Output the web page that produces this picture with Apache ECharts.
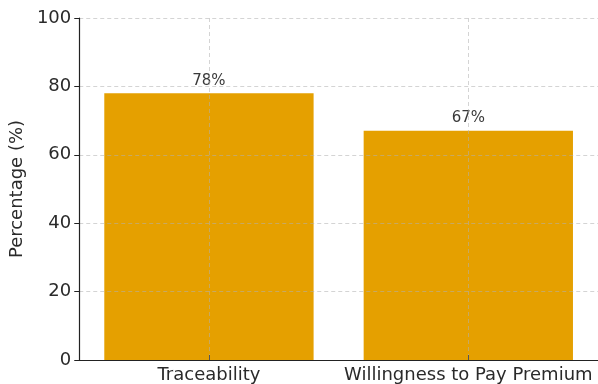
<!DOCTYPE html>
<html>
<head>
<meta charset="utf-8">
<script src="https://cdn.jsdelivr.net/npm/echarts@6/dist/echarts.min.js"></script>
<style>
  html, body { margin: 0; padding: 0; background: #fff; }
  #chart { width: 598px; height: 384px; }
</style>
</head>
<body>
<div id="chart"></div>
<script>
// values
const categories = ["Traceability", "Willingness to Pay Premium"];
const percentages = [78, 67];
const yTicks = [0, 20, 40, 60, 80, 100];

const font = "DejaVu Sans";
const gridColor = "rgba(176,176,176,0.55)";

let myChart = echarts.init(document.getElementById("chart"));

myChart.setOption({
  animation: false,
  color: ["#E5A000"],
  grid: { left: 77, right: 0, top: 18, bottom: 23 },
  xAxis: {
    type: "category",
    data: categories,
    z: 5,
    axisLine: { lineStyle: { color: "#222", width: 1.2 } },
    axisTick: { show: true, inside: true, length: 5, interval: 0, alignWithLabel: true, lineStyle: { color: "#555" } },
    axisLabel: { interval: 0, hideOverlap: false, fontFamily: font, fontSize: 18, color: "#2a2a2a", margin: 6 },
    splitLine: { show: true, interval: 0, alignWithLabel: true, lineStyle: { color: gridColor, type: [4, 3], width: 1 } },
  },
  yAxis: {
    type: "value",
    min: yTicks[0],
    max: yTicks[yTicks.length - 1],
    interval: 20,
    z: 5,
    name: "Percentage (%)",
    nameLocation: "middle",
    nameGap: 51,
    nameTextStyle: { fontFamily: font, fontSize: 18, color: "#2a2a2a" },
    axisLine: { show: true, lineStyle: { color: "#222", width: 1.2 } },
    axisTick: { show: true, length: 5, lineStyle: { color: "#222" } },
    axisLabel: { fontFamily: font, fontSize: 18, color: "#2a2a2a", margin: 8 },
    splitLine: { show: true, lineStyle: { color: gridColor, type: [4, 3], width: 1 } },
  },
  series: [
    {
      name: "Percentage",
      type: "bar",
      data: percentages,
      barWidth: "80.7%",
      z: 1,
      label: {
        show: true,
        position: "top",
        distance: 5,
        formatter: (p) => p.value + "%",
        fontFamily: font,
        fontSize: 15,
        color: "#3a3a3a",
      },
    },
  ],
});
</script>
</body>
</html>
